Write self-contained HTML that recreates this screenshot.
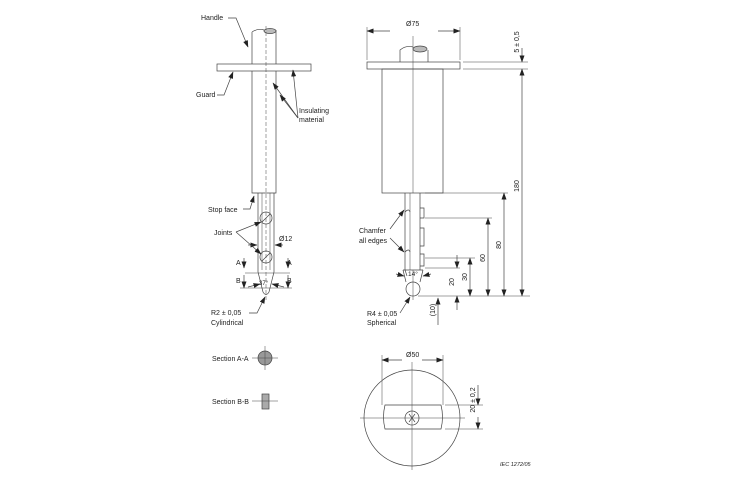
<!DOCTYPE html>
<html><head><meta charset="utf-8"><style>
html,body{margin:0;padding:0;background:#fff;}
svg{display:block;font-family:"Liberation Sans",sans-serif;}
text{font-size:7px;fill:#222;}
</style></head><body>
<svg width="730" height="480" viewBox="0 0 730 480" xmlns="http://www.w3.org/2000/svg">
<defs>
<marker id="a" markerWidth="7" markerHeight="5" refX="6.5" refY="2.5" orient="auto" markerUnits="userSpaceOnUse"><path d="M0,0 L7,2.5 L0,5 z" fill="#222"/></marker>
</defs>
<g stroke="#444" stroke-width="0.7" fill="none">
<!-- LEFT VIEW -->
<path d="M252,32 Q258,28 264,30 M252,32 V193 H276 V30"/>
<ellipse cx="270" cy="31" rx="6" ry="2.5" fill="#bbb"/>
<rect x="217" y="64" width="94" height="7" fill="#fff"/>
<line x1="266" y1="26" x2="266" y2="300" stroke-dasharray="4,2" stroke-width="0.5"/>
<path d="M258,193 V272 L263,292 Q266,297 269,292 L274,272 V193"/>
<line x1="262" y1="193" x2="262" y2="270" stroke-width="0.5"/>
<line x1="270" y1="193" x2="270" y2="270" stroke-width="0.5"/>
<circle cx="266" cy="218" r="6"/><circle cx="266" cy="257" r="6"/>
<line x1="262" y1="222" x2="270" y2="214"/><line x1="262" y1="261" x2="270" y2="253"/>
<line x1="245" y1="273" x2="290" y2="273" stroke-width="0.5"/>
<line x1="240" y1="288" x2="292" y2="288" stroke-width="0.5"/>
<line x1="244" y1="258" x2="244" y2="268" marker-end="url(#a)"/>
<line x1="244" y1="275" x2="244" y2="288" marker-end="url(#a)"/>
<line x1="288" y1="258" x2="288" y2="268" marker-end="url(#a)"/>
<line x1="288" y1="275" x2="288" y2="288" marker-end="url(#a)"/>
<line x1="248" y1="287" x2="260" y2="284" marker-end="url(#a)"/>
<line x1="284" y1="287" x2="272" y2="284" marker-end="url(#a)"/>
<line x1="248" y1="245" x2="257" y2="245" marker-end="url(#a)"/>
<line x1="283" y1="245" x2="275" y2="245" marker-end="url(#a)"/>
<!-- leaders -->
<path d="M228,18 H236 L248,47" marker-end="url(#a)"/>
<path d="M217,95 H224 L233,72" marker-end="url(#a)"/>
<path d="M298,118 L273,83" marker-end="url(#a)"/>
<path d="M298,118 L293,70" marker-end="url(#a)"/>
<path d="M298,118 L280,95" marker-end="url(#a)"/>
<path d="M243,209 L250,209 L254,196" marker-end="url(#a)"/>
<path d="M236,232 L261,222" marker-end="url(#a)"/>
<path d="M236,232 L261,254" marker-end="url(#a)"/>
<path d="M249,313 H257 L265,297" marker-end="url(#a)"/>
<!-- sections -->
<circle cx="265" cy="358" r="7" fill="#999"/>
<line x1="252" y1="358" x2="278" y2="358" stroke-width="0.5"/><line x1="265" y1="346" x2="265" y2="370" stroke-width="0.5"/>
<rect x="262" y="394" width="7" height="15" fill="#aaa"/>
<line x1="252" y1="401" x2="278" y2="401" stroke-width="0.5"/>
<!-- RIGHT VIEW -->
<path d="M400,62 V50 Q406,45 413,47"/>
<ellipse cx="420" cy="49" rx="7" ry="3" fill="#bbb"/>
<line x1="428" y1="50" x2="428" y2="62"/>
<rect x="367" y="62" width="93" height="7" fill="#fff"/>
<rect x="382" y="69" width="61" height="124"/>
<line x1="413" y1="36" x2="413" y2="193" stroke-width="0.5"/>
<line x1="367" y1="60" x2="367" y2="27" stroke-width="0.5"/>
<line x1="460" y1="60" x2="460" y2="27" stroke-width="0.5"/>
<line x1="390" y1="31" x2="367" y2="31" marker-end="url(#a)"/>
<line x1="438" y1="31" x2="460" y2="31" marker-end="url(#a)"/>
<line x1="463" y1="62" x2="528" y2="62" stroke-width="0.5"/>
<line x1="463" y1="69" x2="528" y2="69" stroke-width="0.5"/>
<line x1="522" y1="48" x2="522" y2="62" marker-end="url(#a)"/>
<line x1="522" y1="180" x2="522" y2="69" marker-end="url(#a)"/>
<line x1="522" y1="180" x2="522" y2="296" marker-end="url(#a)"/>
<!-- finger -->
<path d="M405,193 V270 L407,276 M420,193 V270"/>
<path d="M420,208 H424 V218 H420 M420,228 H424 V246 H420 M420,254 H424 V266 H420"/>
<path d="M405,212 Q409,208 410,212 M405,252 Q409,248 410,252"/>
<line x1="410" y1="193" x2="410" y2="270" stroke-width="0.5"/>
<path d="M403,270 L406,282 M423,270 L420,282 M403,270 H423"/>
<circle cx="413" cy="289" r="7"/>
<line x1="413" y1="270" x2="413" y2="300" stroke-width="0.5"/>
<line x1="396" y1="274" x2="404" y2="276" marker-end="url(#a)"/>
<line x1="431" y1="274" x2="423" y2="276" marker-end="url(#a)"/>
<!-- dims right -->
<line x1="418" y1="296" x2="530" y2="296" stroke-width="0.5"/>
<line x1="425" y1="193" x2="508" y2="193" stroke-width="0.5"/>
<line x1="425" y1="218" x2="492" y2="218" stroke-width="0.5"/>
<line x1="425" y1="258" x2="475" y2="258" stroke-width="0.5"/>
<line x1="425" y1="268" x2="460" y2="268" stroke-width="0.5"/>
<line x1="504" y1="245" x2="504" y2="193" marker-end="url(#a)"/><line x1="504" y1="245" x2="504" y2="296" marker-end="url(#a)"/>
<line x1="488" y1="258" x2="488" y2="218" marker-end="url(#a)"/><line x1="488" y1="258" x2="488" y2="296" marker-end="url(#a)"/>
<line x1="470" y1="277" x2="470" y2="258" marker-end="url(#a)"/><line x1="470" y1="277" x2="470" y2="296" marker-end="url(#a)"/>
<line x1="457" y1="255" x2="457" y2="268" marker-end="url(#a)"/><line x1="457" y1="310" x2="457" y2="296" marker-end="url(#a)"/>
<line x1="438" y1="325" x2="438" y2="298" marker-end="url(#a)"/>
<!-- right leaders -->
<path d="M390,229 L404,210" marker-end="url(#a)"/>
<path d="M390,238 L404,252" marker-end="url(#a)"/>
<path d="M400,313 L410,297" marker-end="url(#a)"/>
<!-- BOTTOM VIEW -->
<circle cx="412" cy="418" r="48"/>
<path d="M385,405 H441 Q444,417 441,429 H385 Q382,417 385,405 Z"/>
<circle cx="412" cy="418" r="7"/>
<path d="M409,414 L415,422 M415,414 L409,422"/>
<line x1="412" y1="362" x2="412" y2="470" stroke-width="0.5"/>
<line x1="360" y1="418" x2="465" y2="418" stroke-width="0.5"/>
<line x1="382" y1="355" x2="382" y2="405" stroke-width="0.5"/>
<line x1="443" y1="355" x2="443" y2="405" stroke-width="0.5"/>
<line x1="402" y1="360" x2="382" y2="360" marker-end="url(#a)"/><line x1="422" y1="360" x2="443" y2="360" marker-end="url(#a)"/>
<line x1="445" y1="405" x2="483" y2="405" stroke-width="0.5"/>
<line x1="445" y1="429" x2="483" y2="429" stroke-width="0.5"/>
<line x1="478" y1="385" x2="478" y2="405" marker-end="url(#a)"/>
<line x1="478" y1="417" x2="478" y2="429" marker-end="url(#a)"/>
</g>
<!-- labels -->
<text x="201" y="20">Handle</text>
<text x="196" y="97">Guard</text>
<text x="299" y="113">Insulating</text>
<text x="299" y="122">material</text>
<text x="208" y="212">Stop face</text>
<text x="214" y="235">Joints</text>
<text x="279" y="241">Ø12</text>
<text x="236" y="265">A</text><text x="287" y="265">A</text>
<text x="236" y="283">B</text><text x="287" y="283">B</text>
<text x="259" y="285" style="font-size:6px">37°</text>
<text x="211" y="315">R2 ± 0,05</text>
<text x="211" y="325">Cylindrical</text>
<text x="212" y="361">Section A-A</text>
<text x="212" y="404">Section B-B</text>
<text x="406" y="26">Ø75</text>
<text x="406" y="357">Ø50</text>
<text x="359" y="233">Chamfer</text>
<text x="359" y="243">all edges</text>
<text x="408" y="276" style="font-size:6.5px">14°</text>
<text x="367" y="316">R4 ± 0,05</text>
<text x="367" y="325">Spherical</text>
<text x="500" y="466" style="font-size:5.5px;font-style:italic">IEC  1272/05</text>
<g style="font-size:7px">
<text transform="translate(519,42) rotate(-90)" text-anchor="middle">5 ± 0,5</text>
<text transform="translate(519,186) rotate(-90)" text-anchor="middle">180</text>
<text transform="translate(501,245) rotate(-90)" text-anchor="middle">80</text>
<text transform="translate(485,258) rotate(-90)" text-anchor="middle">60</text>
<text transform="translate(467,277) rotate(-90)" text-anchor="middle">30</text>
<text transform="translate(454,282) rotate(-90)" text-anchor="middle">20</text>
<text transform="translate(435,310) rotate(-90)" text-anchor="middle">(10)</text>
<text transform="translate(475,400) rotate(-90)" text-anchor="middle">20 ± 0,2</text>
</g>
</svg>
</body></html>
